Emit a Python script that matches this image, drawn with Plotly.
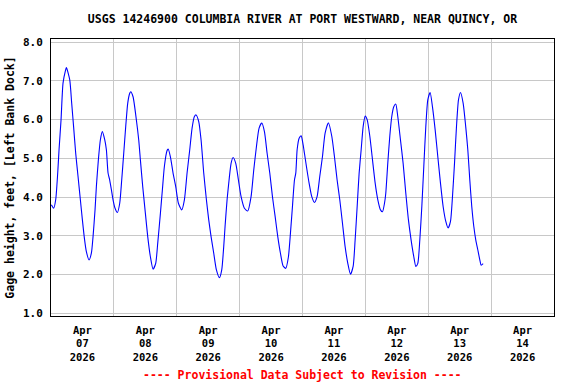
import pandas as pd
import plotly.graph_objects as go

# hours after 2026-04-07 00:00 and gage height (ft)
hours = [0.14, 1.03, 1.79, 2.56, 3.07, 3.83, 4.59, 5.49, 5.87, 7.14, 7.90, 8.67, 9.43, 10.32,
         11.21, 11.98, 12.74, 13.50, 14.52, 15.41, 16.05, 16.81, 17.32, 18.08, 18.85, 19.61,
         20.50, 21.14, 21.78, 22.41, 23.05, 23.68, 24.45, 25.34, 26.23, 26.99, 27.76, 28.52,
         29.28, 30.05, 30.43, 31.32, 32.59, 33.48, 34.12, 35.01, 36.03, 36.92, 37.94, 38.96,
         39.97, 40.74, 41.76, 42.52, 43.28, 44.30, 44.70, 45.58, 46.59, 47.61, 48.63, 49.90,
         50.92, 51.94, 52.96, 53.85, 54.74, 55.37, 56.39, 57.28, 58.30, 59.32, 60.21, 61.10,
         62.12, 63.14, 64.30, 65.17, 65.93, 66.44, 67.21, 67.97, 68.74, 69.50, 70.52, 71.54,
         72.56, 73.83, 75.10, 76.37, 77.39, 78.41, 79.43, 80.45, 81.47, 82.49, 83.51, 84.53,
         85.55, 86.56, 87.58, 88.60, 89.62, 90.63, 91.40, 92.16, 92.93, 93.44, 93.95, 94.71,
         95.48, 96.24, 96.74, 97.50, 98.52, 99.54, 100.56, 101.57, 102.59, 103.61, 104.63,
         105.90, 107.18, 108.20, 109.21, 110.23, 111.25, 112.27, 113.29, 114.31, 115.33,
         116.09, 116.86, 117.62, 118.39, 119.15, 119.92, 120.68, 121.70, 122.72, 123.74,
         124.75, 125.77, 126.54, 127.30, 127.79, 128.55, 129.32, 130.08, 130.84, 131.61,
         132.37, 133.39, 134.41, 135.43, 136.44, 137.46, 138.48, 139.25, 140.01, 140.78,
         141.54, 142.30, 143.07, 143.83, 144.72, 145.61, 146.63, 147.65, 148.67, 149.69,
         150.70, 151.59, 152.49, 153.25, 154.02, 154.78, 155.54, 156.31, 157.33, 158.33,
         159.10, 159.86, 160.62, 161.39, 162.15, 162.91, 163.68, 164.19, 164.95]

gage_ft = [3.80, 3.71, 3.93, 4.62, 5.22, 5.99, 6.94, 7.26, 7.34, 7.03, 6.42, 5.78, 5.13, 4.53,
           3.93, 3.41, 2.94, 2.59, 2.38, 2.55, 2.98, 3.67, 4.27, 4.96, 5.48, 5.69,
           5.48, 5.22, 4.62, 4.44, 4.19, 3.93, 3.71, 3.60, 3.84, 4.44, 5.13, 5.82,
           6.42, 6.68, 6.72, 6.59, 5.99, 5.48, 4.96, 4.27, 3.58, 2.98, 2.46, 2.14,
           2.29, 2.81, 3.58, 4.19, 4.79, 5.20, 5.24, 5.04, 4.62, 4.27, 3.84, 3.67,
           3.93, 4.62, 5.22, 5.78, 6.08, 6.12, 5.95, 5.48, 4.62, 3.93, 3.41, 2.98,
           2.55, 2.12, 1.92, 2.12, 2.72, 3.24, 3.93, 4.44, 4.87, 5.02, 4.87, 4.44,
           4.01, 3.71, 3.64, 4.01, 4.70, 5.30, 5.78, 5.91, 5.69, 5.13, 4.62, 4.01,
           3.50, 2.98, 2.55, 2.22, 2.16, 2.46, 3.07, 3.75, 4.44, 4.62, 5.22, 5.52,
           5.58, 5.35, 5.13, 4.79, 4.36, 4.01, 3.86, 4.01, 4.53, 5.04, 5.65,
           5.92, 5.57, 5.04, 4.44, 3.93, 3.33, 2.72, 2.29, 2.01, 2.21,
           2.89, 3.75, 4.62, 5.22, 5.82, 6.09, 6.00, 5.57, 4.96, 4.36,
           3.93, 3.67, 3.62, 3.84, 4.10, 4.87, 5.57, 6.08, 6.33, 6.40,
           6.08, 5.48, 4.87, 4.10, 3.41, 2.89, 2.46, 2.21, 2.29, 2.89,
           3.75, 4.79, 5.82, 6.51, 6.70, 6.33, 5.74, 5.04, 4.36, 3.75,
           3.37, 3.20, 3.37, 4.01, 4.87, 5.82, 6.51, 6.70, 6.42, 5.80,
           5.22, 4.44, 3.75, 3.24, 2.89, 2.64, 2.38, 2.24, 2.28]

start = pd.Timestamp("2026-04-07 00:00")
times = [start + pd.Timedelta(hours=h) for h in hours]

title_text = "USGS 14246900 COLUMBIA RIVER AT PORT WESTWARD, NEAR QUINCY, OR"
y_title = "Gage height, feet, [Left Bank Dock]"
footer = "---- Provisional Data Subject to Revision ----"
mono = "DejaVu Sans Mono"

fig = go.Figure(go.Scatter(
    x=times, y=gage_ft, mode="lines",
    line=dict(color="#0000ff", width=1.1, shape="spline", smoothing=0.6),
    hoverinfo="skip", showlegend=False))

fig.update_layout(
    width=576, height=384,
    margin=dict(l=51, r=22, t=39, b=68, autoexpand=False),
    paper_bgcolor="white", plot_bgcolor="white",
    title=dict(text="<b>" + title_text + "</b>", x=0.5, xref="paper", xanchor="center",
               y=1 - 19 / 384, yref="container", yanchor="middle",
               font=dict(family=mono, size=11.5, color="black")),
    font=dict(family=mono, color="black"),
)

fig.update_xaxes(
    type="date", automargin=False,
    range=["2026-04-07 00:00", "2026-04-15 00:00"],
    tick0="2026-04-07", dtick=86400000,
    ticklabelmode="period",
    tickformat="%b<br>%d<br>%Y",
    tickfont=dict(family=mono, size=10.5, color="black", weight="bold"),
    showgrid=True, gridcolor="#c8c8c8", gridwidth=1,
    showline=True, linecolor="black", linewidth=1, mirror=True,
    ticks="outside", ticklen=4, tickcolor="white", zeroline=False,
)

fig.update_yaxes(
    automargin=False,
    range=[0.93, 8.08],
    tick0=1, dtick=1, tickformat=".1f",
    tickfont=dict(family=mono, size=11, color="black", weight="bold"),
    title=dict(text="<b>" + y_title + "</b>", font=dict(family=mono, size=11.5, color="black"),
               standoff=5),
    showgrid=True, gridcolor="#c8c8c8", gridwidth=1,
    showline=True, linecolor="black", linewidth=1, mirror=True,
    ticks="outside", ticklen=5, tickcolor="white", zeroline=False,
)

fig.add_annotation(
    text="<b>" + footer + "</b>", xref="paper", yref="paper", x=0.5, y=-0.213,
    xanchor="center", yanchor="middle", showarrow=False,
    font=dict(family=mono, size=11.5, color="#ff0000"))

fig.write_html("out.html", config={"displayModeBar": False},
               post_script="document.body.style.margin='0';")
